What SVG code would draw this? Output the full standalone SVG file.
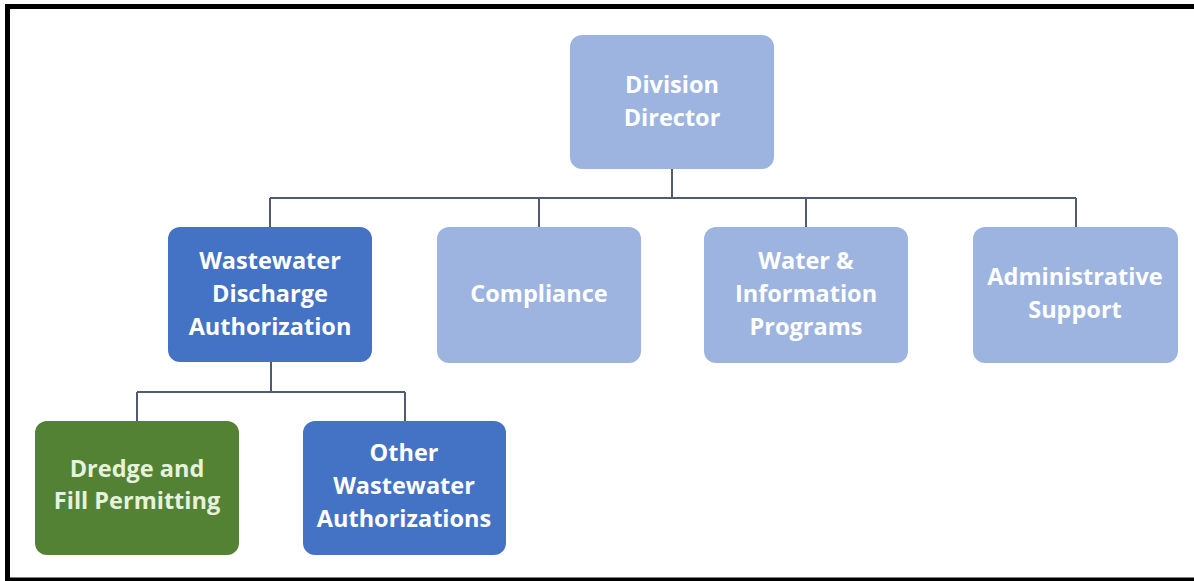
<svg xmlns="http://www.w3.org/2000/svg" width="1194" height="581" viewBox="0 0 1194 581">
  <style>
    .box { stroke: none; }
    .light { fill: #9DB4E0; }
    .dark { fill: #4472C4; }
    .green { fill: #548235; }
    .lbl { font-family: "Open Sans", "Liberation Sans", sans-serif; font-weight: 700; font-size: 23.5px; text-anchor: middle; fill: #FFFFFF; }
    .lbl-green { fill: #E6F2DC; }
    .conn { fill: none; stroke: #4F5B73; stroke-width: 2; }
  </style>

  <!-- outer frame -->
  <path d="M7.5 581 V6.5 H1194 M5 580 H1194" fill="none" stroke="#000" stroke-width="5"/>

  <!-- connectors -->
  <g id="connectors">
    <path class="conn" d="M672 169 V198" stroke-width="3"/>
    <path class="conn" d="M270 198 H1076"/>
    <path class="conn" d="M270 198 V227 M539 198 V227 M806 198 V227 M1076 198 V227"/>
    <path class="conn" d="M271 362 V392 M137 392 H405 M137 392 V421 M405 392 V421"/>
  </g>

  <g id="division-director">
    <rect class="box light" x="570" y="35" width="204" height="134" rx="12"/>
    <text class="lbl" x="672" y="93">Division</text>
    <text class="lbl" x="672" y="126">Director</text>
  </g>

  <g id="wastewater-discharge">
    <rect class="box dark" x="168" y="227" width="204" height="135" rx="12"/>
    <text class="lbl" x="270" y="269">Wastewater</text>
    <text class="lbl" x="270" y="302">Discharge</text>
    <text class="lbl" x="270" y="335">Authorization</text>
  </g>

  <g id="compliance">
    <rect class="box light" x="437" y="227" width="204" height="136" rx="12"/>
    <text class="lbl" x="539" y="302">Compliance</text>
  </g>

  <g id="water-information">
    <rect class="box light" x="704" y="227" width="204" height="136" rx="12"/>
    <text class="lbl" x="806" y="269">Water &amp;</text>
    <text class="lbl" x="806" y="302">Information</text>
    <text class="lbl" x="806" y="335">Programs</text>
  </g>

  <g id="administrative-support">
    <rect class="box light" x="973" y="227" width="205" height="136" rx="12"/>
    <text class="lbl" x="1075" y="285">Administrative</text>
    <text class="lbl" x="1075" y="318">Support</text>
  </g>

  <g id="dredge-fill">
    <rect class="box green" x="35" y="421" width="204" height="134" rx="12"/>
    <text class="lbl lbl-green" x="137" y="477">Dredge and</text>
    <text class="lbl lbl-green" x="137" y="509">Fill Permitting</text>
  </g>

  <g id="other-wastewater">
    <rect class="box dark" x="303" y="421" width="203" height="134" rx="12"/>
    <text class="lbl" x="404" y="461">Other</text>
    <text class="lbl" x="404" y="494">Wastewater</text>
    <text class="lbl" x="404" y="527">Authorizations</text>
  </g>
</svg>
